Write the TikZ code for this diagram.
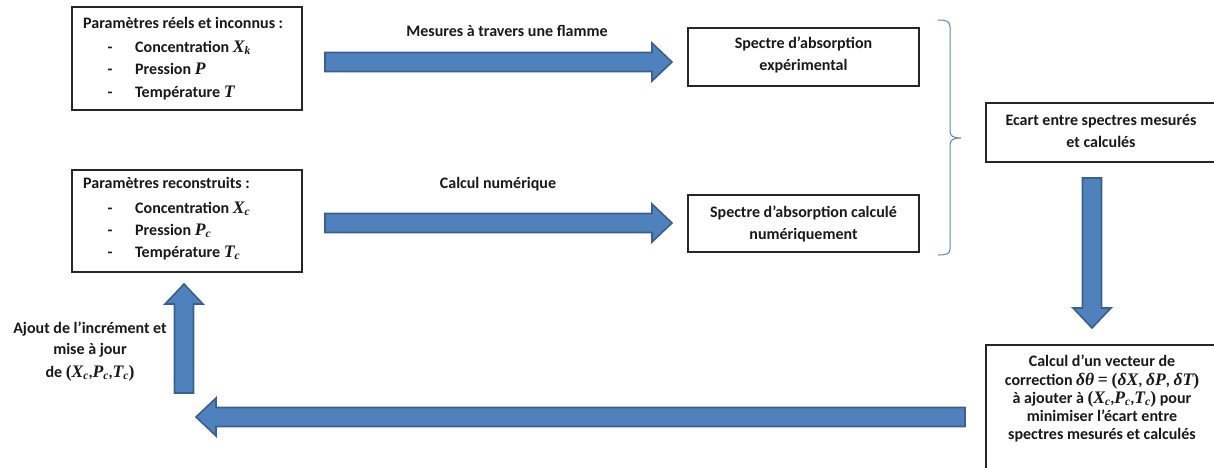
\documentclass[tikz,border=0pt]{standalone}
\usepackage{fontspec}
\setmainfont{Carlito}
\newfontfamily\mathf{Liberation Serif}[Scale=1.1]
\usetikzlibrary{calc}
\definecolor{arrfill}{HTML}{4F81BD}
\definecolor{arrdraw}{HTML}{3A5F8E}
\definecolor{bracec}{HTML}{5B85C0}
\newcommand\mi[1]{{\mathf\bfseries\itshape #1}}
\newcommand\mup[1]{{\mathf\bfseries #1}}
\newcommand\ms[2]{\mi{#1}\raisebox{-0.3ex}{\mathf\bfseries\itshape\fontsize{10.5}{11}\selectfont #2}}
\tikzset{
  box/.style={draw=black!85, line width=1.1pt, fill=white, inner sep=0pt},
  txt/.style={font=\fontsize{16}{22}\selectfont\bfseries, inner sep=0pt, text=black!90},
  blockarr/.style={fill=arrfill, draw=arrdraw, line width=1.6pt, line join=miter},
}
\newcommand\blockarrow[2]{%
  \draw[blockarr]
    ($(#1)!9.5pt!90:(#2)$)
    -- ($($(#2)!20pt!(#1)$)!9.5pt!90:(#2)$)
    -- ($($(#2)!20pt!(#1)$)!19pt!90:(#2)$)
    -- (#2)
    -- ($($(#2)!20pt!(#1)$)!19pt!-90:(#2)$)
    -- ($($(#2)!20pt!(#1)$)!9.5pt!-90:(#2)$)
    -- ($(#1)!9.5pt!-90:(#2)$)
    -- cycle;}
\begin{document}
\begin{tikzpicture}[x=1pt,y=-1pt]
\useasboundingbox (0,0) rectangle (1214,467);
\clip (0,0) rectangle (1214,467);

% boxes
\node[box, minimum width=230pt, minimum height=103pt] (b1) at (187,58.5) {};
\node[box, minimum width=230pt, minimum height=102pt] (b2) at (187,221) {};
\node[box, minimum width=231pt, minimum height=58pt] (b3) at (803.5,57) {};
\node[box, minimum width=231pt, minimum height=57pt] (b4) at (803.5,223.5) {};
\node[box, minimum width=232pt, minimum height=59pt] (b5) at (1102,132.5) {};
\node[box, minimum width=232pt, minimum height=130pt] (b6) at (1102,410) {};

% box 1 text
\node[txt, anchor=base west] (t1a) at (83,28) {Paramètres réels et inconnus :};
\node[txt, anchor=base] (d1a) at (110,52) {-};
\node[txt, anchor=base west] (t1b) at (135,52) {Concentration \ms{X}{k}};
\node[txt, anchor=base] (d1b) at (110,74) {-};
\node[txt, anchor=base west] (t1c) at (135,74) {Pression \mi{P}};
\node[txt, anchor=base] (d1c) at (110,97) {-};
\node[txt, anchor=base west] (t1d) at (135,97) {Température \mi{T}};

% box 2 text
\node[txt, anchor=base west] (t2a) at (83,188) {Paramètres reconstruits :};
\node[txt, anchor=base] (d2a) at (110,213) {-};
\node[txt, anchor=base west] (t2b) at (135,213) {Concentration \ms{X}{c}};
\node[txt, anchor=base] (d2b) at (110,235) {-};
\node[txt, anchor=base west] (t2c) at (135,235) {Pression \ms{P}{c}};
\node[txt, anchor=base] (d2c) at (110,257) {-};
\node[txt, anchor=base west] (t2d) at (135,257) {Température \ms{T}{c}};

% box 3 / 4 text
\node[txt, anchor=base] (t3a) at (803.5,48) {Spectre d’absorption};
\node[txt, anchor=base] (t3b) at (803.5,70) {expérimental};
\node[txt, anchor=base] (t4a) at (803.5,217) {Spectre d’absorption calculé};
\node[txt, anchor=base] (t4b) at (803.5,239) {numériquement};

% box 5 text
\node[txt, anchor=base] (t5a) at (1101,125) {Ecart entre spectres mesurés};
\node[txt, anchor=base] (t5b) at (1101,147) {et calculés};

% box 6 text
\node[txt, anchor=base] (t6a) at (1102,366) {Calcul d’un vecteur de};
\node[txt, anchor=base] (t6b) at (1102,385) {correction \mi{δθ} \mup{=} \mup{(}\mi{δX}, \mi{δP}, \mi{δT}\mup{)}};
\node[txt, anchor=base] (t6c) at (1102,403) {à ajouter à \mup{(}\ms{X}{c},\ms{P}{c},\ms{T}{c}\mup{)} pour};
\node[txt, anchor=base] (t6d) at (1102,421) {minimiser l’écart entre};
\node[txt, anchor=base] (t6e) at (1102,439) {spectres mesurés et calculés};

% left label
\node[txt, anchor=base] (l1) at (90,333) {Ajout de l’incrément et};
\node[txt, anchor=base] (l2) at (90,354) {mise à jour};
\node[txt, anchor=base] (l3) at (90,377) {de \mup{(}\ms{X}{c},\ms{P}{c},\ms{T}{c}\mup{)}};

% arrow labels
\node[txt, anchor=base] (la1) at (507,36) {Mesures à travers une flamme};
\node[txt, anchor=base] (la2) at (498,188) {Calcul numérique};

% block arrows
\coordinate (a1s) at (325,62);   \coordinate (a1e) at (672,62);
\coordinate (a2s) at (325,223);  \coordinate (a2e) at (672,223);
\coordinate (a3s) at (1092,178); \coordinate (a3e) at (1092,328);
\coordinate (a4s) at (965,417);  \coordinate (a4e) at (196,417);
\coordinate (a5s) at (184,393);  \coordinate (a5e) at (184,284);
\blockarrow{a1s}{a1e}
\blockarrow{a2s}{a2e}
\blockarrow{a3s}{a3e}
\blockarrow{a4s}{a4e}
\blockarrow{a5s}{a5e}

% brace
\draw[bracec, line width=1pt]
  (938,20) .. controls (946,20) and (950,21) .. (950,27)
  -- (950,131) .. controls (950,136) and (953,138) .. (961,138)
  .. controls (953,138) and (950,140) .. (950,145)
  -- (950,249) .. controls (950,254) and (946,255) .. (938,255);
\end{tikzpicture}
\end{document}
